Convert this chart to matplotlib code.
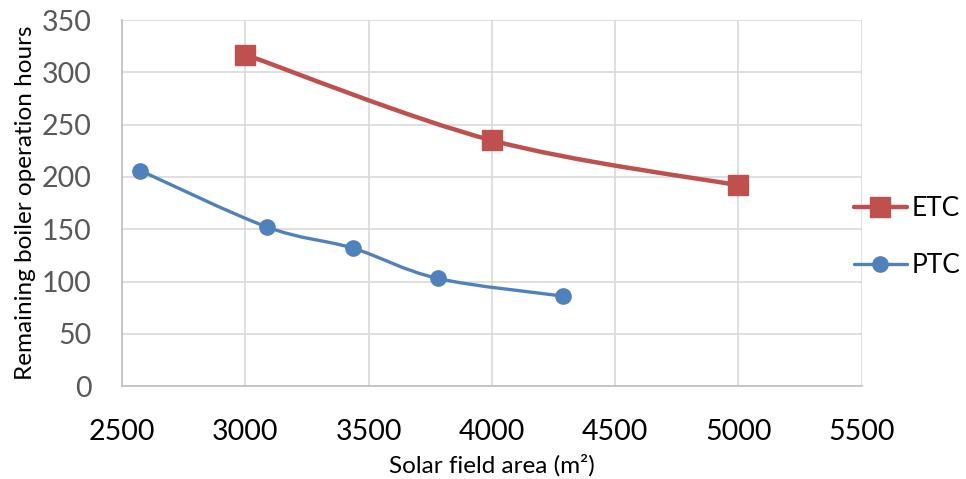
import matplotlib
matplotlib.use("Agg")
import matplotlib.pyplot as plt
from matplotlib.path import Path
from matplotlib.patches import PathPatch
from matplotlib.lines import Line2D
import numpy as np

plt.rcParams['font.family'] = ['Lato', 'DejaVu Sans']

etc_x = [3000, 4000, 5000]
etc_y = [317, 235, 192]
ptc_x = [2575, 3090, 3435, 3780, 4290]
ptc_y = [206, 152, 132, 103, 86]
x_ticks = [2500, 3000, 3500, 4000, 4500, 5000, 5500]
y_ticks = [0, 50, 100, 150, 200, 250, 300, 350]

ETC_COLOR = '#C0504D'
PTC_COLOR = '#4F81BD'


def smooth_path(xs, ys):
    pts = np.column_stack([xs, ys]).astype(float)
    n = len(pts)
    verts = [pts[0]]
    codes = [Path.MOVETO]
    for i in range(n - 1):
        p0 = pts[i - 1] if i > 0 else pts[i]
        p1 = pts[i]
        p2 = pts[i + 1]
        p3 = pts[i + 2] if i + 2 < n else pts[i + 1]
        c1 = p1 + (p2 - p0) / 6.0
        c2 = p2 - (p3 - p1) / 6.0
        verts += [c1, c2, p2]
        codes += [Path.CURVE4] * 3
    return Path(verts, codes)


fig = plt.figure(figsize=(9.66, 4.79), dpi=100)
ax = fig.add_axes([0.1263, 0.194, 0.7657, 0.764])
ax.set_xlim(2500, 5500)
ax.set_ylim(0, 350)
ax.set_xticks(x_ticks)
ax.set_yticks(y_ticks)
ax.grid(True, color='#d9d9d9', linewidth=1.2)
ax.set_axisbelow(True)
for s in ['top', 'right']:
    ax.spines[s].set_visible(False)
for s in ['left', 'bottom']:
    ax.spines[s].set_color('#bfbfbf')
    ax.spines[s].set_linewidth(1.2)
ax.tick_params(length=0)
ax.tick_params(axis='y', labelsize=20.5, labelcolor='#595959', pad=22)
ax.tick_params(axis='x', labelsize=20.5, labelcolor='black', pad=24)

ax.add_patch(PathPatch(smooth_path(etc_x, etc_y), facecolor='none',
                       edgecolor=ETC_COLOR, linewidth=3.2, capstyle='round', zorder=3))
ax.add_patch(PathPatch(smooth_path(ptc_x, ptc_y), facecolor='none',
                       edgecolor=PTC_COLOR, linewidth=2.4, capstyle='round', zorder=3))
ax.plot(etc_x, etc_y, linestyle='none', marker='s', markersize=14,
        color=ETC_COLOR, zorder=4)
ax.plot(ptc_x, ptc_y, linestyle='none', marker='o', markersize=11,
        color=PTC_COLOR, zorder=4)

ax.set_xlabel('Solar field area (m²)', fontsize=17.5, labelpad=6)
ax.set_ylabel('Remaining boiler operation hours', fontsize=17.5, labelpad=4)

handles = [
    Line2D([], [], color=ETC_COLOR, linewidth=3.2, marker='s', markersize=14,
           solid_capstyle='round'),
    Line2D([], [], color=PTC_COLOR, linewidth=2.4, marker='o', markersize=11,
           solid_capstyle='round'),
]
fig.legend(handles, ['ETC', 'PTC'], loc='center left',
           bbox_to_anchor=(0.884, 0.505), frameon=False, fontsize=19,
           handlelength=2.0, handletextpad=0.2, labelspacing=1.2,
           borderpad=0, borderaxespad=0)

fig.savefig('out.png', dpi=100)
